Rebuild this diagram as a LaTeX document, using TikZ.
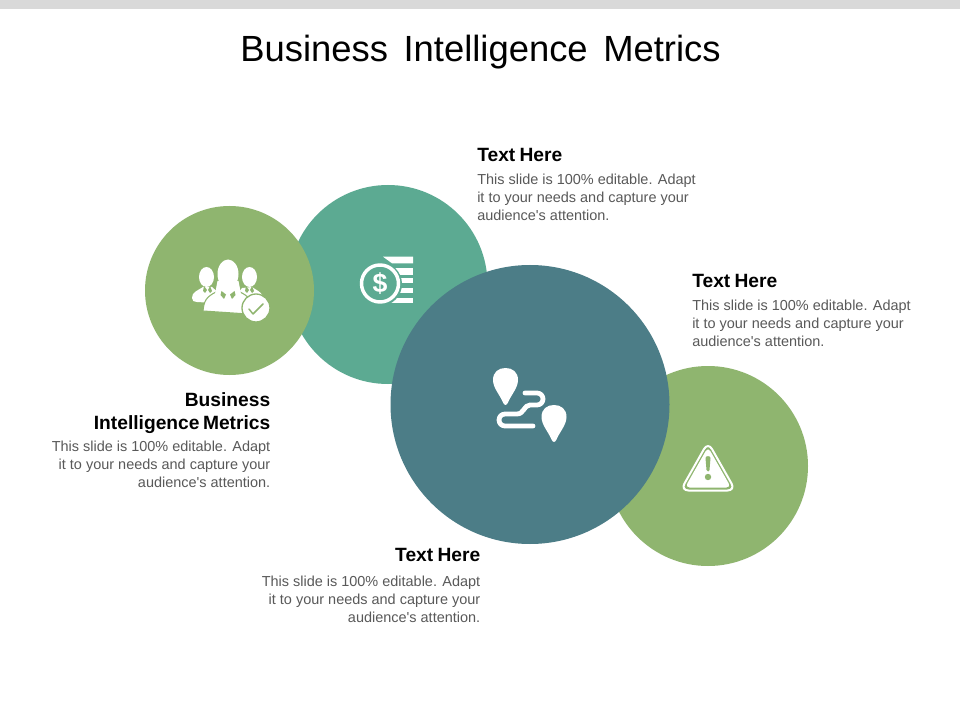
\documentclass[tikz,border=0pt]{standalone}
\usepackage{fontspec}
\setmainfont{Liberation Sans}[Ligatures=TeXOff]
\usetikzlibrary{calc}
\definecolor{barGray}{HTML}{D9D9D9}
\definecolor{leafGreen}{HTML}{8FB56F}
\definecolor{seaTeal}{HTML}{5CAA92}
\definecolor{deepTeal}{HTML}{4C7D87}
\definecolor{bodyGray}{HTML}{595959}
\newcommand{\tsp}{\hspace{11.7pt}}
\newcommand{\hsp}{\hspace{2.6pt}}
\newcommand{\hspw}{\hspace{3.2pt}}
\tikzset{
  x=0.75pt,y=-0.75pt,
  disc/.style={circle,inner sep=0pt,minimum size=#1*0.75pt},
  titletext/.style={inner sep=0pt,font=\fontsize{27.3}{32}\selectfont,text=black},
  headtext/.style={inner sep=0pt,font=\fontsize{14.4}{17.25}\selectfont\bfseries,text=black},
  bodyL/.style={inner sep=0pt,anchor=north west,align=left,font=\fontsize{10.85}{13.5}\selectfont,text=bodyGray},
  bodyR/.style={inner sep=0pt,anchor=north east,align=right,font=\fontsize{10.85}{13.5}\selectfont,text=bodyGray},
}
\newcommand{\pinshape}[2]{%
  \fill[white] (#1-2.5,#2+21.5) .. controls (#1-5.5,#2+14) and (#1-12.5,#2+7) .. (#1-12.5,#2-1)
    .. controls (#1-12.5,#2-9) and (#1-7,#2-13) .. (#1,#2-13)
    .. controls (#1+7,#2-13) and (#1+12.5,#2-9) .. (#1+12.5,#2-1)
    .. controls (#1+12.5,#2+7) and (#1+5.5,#2+14) .. (#1+2.5,#2+21.5)
    .. controls (#1+1.2,#2+24.7) and (#1-1.2,#2+24.7) .. (#1-2.5,#2+21.5) -- cycle;}
\begin{document}
\begin{tikzpicture}
\useasboundingbox (0,0) rectangle (960,720);
\fill[white] (0,0) rectangle (960,720);
\fill[barGray] (0,0) rectangle (960,9);

\node[titletext] (title) at (480.5,52.5) {Business\tsp Intelligence\tsp Metrics};

% circles
\node[disc=199,fill=seaTeal] (c2) at (388,284.5) {};
\node[disc=169,fill=leafGreen] (c1) at (229.5,290.5) {};
\node[disc=200,fill=leafGreen] (c4) at (708,466) {};
\node[disc=279,fill=deepTeal] (c3) at (530,404.5) {};

% people icon
\fill[white] (206.5,277) ellipse (7.5 and 10);
\fill[white] (249.5,277) ellipse (7.5 and 10);
\fill[white] (192,298) .. controls (192,292) and (197,291) .. (203,287) -- (212,287) -- (222,296)
  -- (214,303) -- (197,302) .. controls (194,302) and (192,301) .. (192,298) -- cycle;
\fill[white] (263,296) .. controls (260,291) and (256,290) .. (252,287) -- (242,288) -- (236,296) -- (250,302) -- cycle;
\draw[leafGreen,line width=0.8pt,fill=white] (203,311) .. controls (204,301) and (206,297) .. (216,292)
  -- (240,292) .. controls (248,296) and (252,300) .. (254,306) -- (248,314) -- cycle;
\fill[white] (228,274) ellipse (10.5 and 14.5);
\fill[white] (217.5,281) -- (238.5,281) -- (241,294) -- (215,294) -- cycle;
\fill[leafGreen] (221.5,291) -- (226,294.5) -- (224,299) -- (220.5,295) -- cycle;
\fill[leafGreen] (234.5,291) -- (230,294.5) -- (232,299) -- (235.5,295) -- cycle;
\fill[leafGreen] (204,286) -- (207,290) -- (205,293) -- (203,291) -- cycle;
\fill[leafGreen] (210,286) -- (208,290) -- (210,293) -- (212,291) -- cycle;
\fill[leafGreen] (246,286) -- (249,290) -- (247,293) -- (245,291) -- cycle;
\fill[leafGreen] (252,286) -- (250,290) -- (252,293) -- (254,291) -- cycle;
\draw[leafGreen,line width=1pt,fill=white] (256,308) circle (14);
\draw[leafGreen,line width=1.1pt,line cap=round,line join=round] (249,309) -- (253,314) -- (263,304);

% coins icon
\fill[white] (383,256.7) -- (413,256.7) -- (413,263.3) -- (392,263.3) -- cycle;
\fill[white] (395,268.5) rectangle (413,275);
\fill[white] (400,278.5) rectangle (413,283.5);
\fill[white] (400,288) rectangle (413,293.5);
\fill[white] (391,298) rectangle (413,303.5);
\fill[seaTeal] (380,284) circle (22);
\draw[white,line width=2.6pt] (380,283.5) circle (18.5);
\node[inner sep=0pt,text=white,font=\fontsize{20}{20}\selectfont\bfseries] (dollar) at (380,284) {\$};

% map icon
\pinshape{505.5}{381}
\pinshape{554}{418}
\draw[white,line width=3.6pt,line cap=round,line join=round]
  (525,393) -- (537,393) arc (-90:90:6) -- (530,405)
  .. controls (524,405) and (524,414) .. (517,414) -- (505,414)
  arc (270:90:6) -- (533,426);

% warning icon
\draw[white,line width=1.5pt,line join=round,rounded corners=6pt]
  (708,442) -- (735.5,490.5) -- (680.5,490.5) -- cycle;
\fill[white,rounded corners=3.5pt] (708,447) -- (731,487.5) -- (685,487.5) -- cycle;
\fill[leafGreen] (705.5,458) .. controls (705.5,455.5) and (710.5,455.5) .. (710.5,458) -- (709.5,470) .. controls (709.5,472) and (706.5,472) .. (706.5,470) -- cycle;
\fill[leafGreen] (708,477) circle (3.2);

% texts
\node[headtext,anchor=west] (h1) at (477,155) {Text\hspw Here};
\node[bodyL] (b1) at (477,173.5) {This slide is 100\% editable. Adapt\\it to your needs and capture your\\audience's attention.};
\node[headtext,anchor=west] (h2) at (692,281) {Text\hspw Here};
\node[bodyL] (b2) at (692,300) {This slide is 100\% editable. Adapt\\it to your needs and capture your\\audience's attention.};
\node[headtext,anchor=north east,align=right] (h3) at (270.5,392) {Business\\Intelligence\hsp Metrics};
\node[bodyR] (b3) at (270.5,441) {This slide is 100\% editable. Adapt\\it to your needs and capture your\\audience's attention.};
\node[headtext,anchor=east] (h4) at (480.5,555) {Text\hspw Here};
\node[bodyR] (b4) at (480.5,575.5) {This slide is 100\% editable. Adapt\\it to your needs and capture your\\audience's attention.};
\end{tikzpicture}
\end{document}
